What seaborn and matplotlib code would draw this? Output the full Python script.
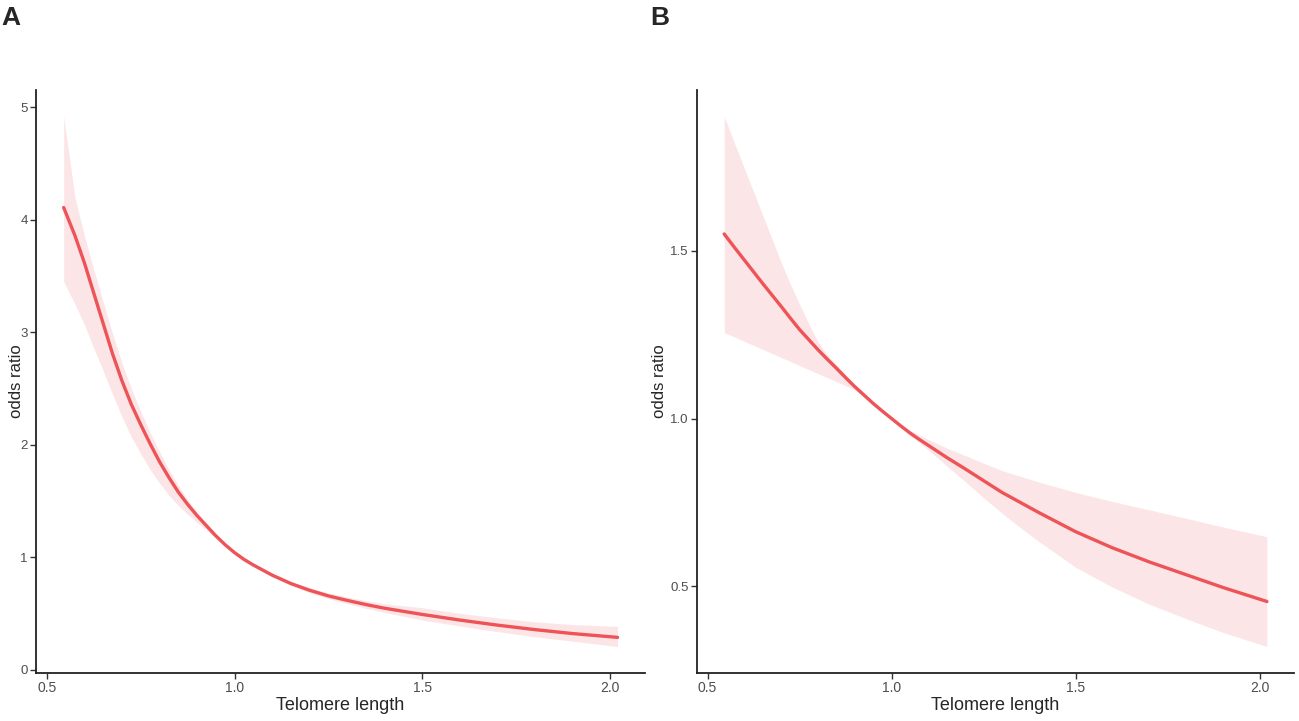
import pandas as pd
import matplotlib.pyplot as plt
import seaborn as sns

# telomere length grid shared by both panels
telomere = [0.545, 0.575, 0.600, 0.625, 0.650, 0.675, 0.700, 0.725, 0.750, 0.775,
            0.800, 0.825, 0.850, 0.875, 0.900, 0.925, 0.950, 0.975, 1.000, 1.025,
            1.050, 1.075, 1.100, 1.150, 1.200, 1.250, 1.300, 1.350, 1.400, 1.500,
            1.600, 1.700, 1.800, 1.900, 2.020]

# panel A: odds ratio with 95% CI
or_a = [4.11, 3.86, 3.62, 3.35, 3.08, 2.81, 2.57, 2.36, 2.18, 2.01,
        1.85, 1.71, 1.58, 1.47, 1.37, 1.28, 1.19, 1.11, 1.04, 0.98,
        0.93, 0.885, 0.84, 0.765, 0.705, 0.655, 0.615, 0.578, 0.545, 0.49,
        0.44, 0.395, 0.355, 0.32, 0.286]
lo_a = [3.45, 3.25, 3.07, 2.86, 2.66, 2.45, 2.25, 2.07, 1.92, 1.78,
        1.66, 1.55, 1.46, 1.38, 1.31, 1.24, 1.17, 1.10, 1.035, 0.975,
        0.922, 0.875, 0.828, 0.748, 0.684, 0.630, 0.586, 0.545, 0.507, 0.44,
        0.387, 0.337, 0.292, 0.252, 0.205]
hi_a = [4.92, 4.20, 3.86, 3.56, 3.27, 2.99, 2.73, 2.50, 2.30, 2.11,
        1.94, 1.78, 1.64, 1.51, 1.40, 1.30, 1.205, 1.12, 1.045, 0.985,
        0.937, 0.895, 0.852, 0.782, 0.727, 0.681, 0.645, 0.612, 0.585, 0.55,
        0.50, 0.46, 0.425, 0.40, 0.383]

# panel B
or_b = [1.550, 1.507, 1.472, 1.437, 1.402, 1.368, 1.334, 1.299, 1.265, 1.235,
        1.205, 1.177, 1.150, 1.122, 1.095, 1.070, 1.045, 1.022, 1.000, 0.978,
        0.957, 0.938, 0.920, 0.884, 0.850, 0.815, 0.780, 0.750, 0.720, 0.663,
        0.615, 0.573, 0.535, 0.497, 0.455]
lo_b = [1.256, 1.242, 1.230, 1.218, 1.206, 1.194, 1.182, 1.170, 1.158, 1.146,
        1.134, 1.122, 1.110, 1.098, 1.085, 1.066, 1.043, 1.020, 0.999, 0.975,
        0.950, 0.929, 0.906, 0.859, 0.812, 0.764, 0.718, 0.675, 0.634, 0.557,
        0.498, 0.447, 0.404, 0.363, 0.321]
hi_b = [1.900, 1.815, 1.745, 1.675, 1.605, 1.535, 1.465, 1.400, 1.340, 1.282,
        1.228, 1.190, 1.160, 1.130, 1.100, 1.073, 1.047, 1.023, 1.001, 0.982,
        0.965, 0.951, 0.938, 0.912, 0.890, 0.867, 0.845, 0.828, 0.811, 0.780,
        0.753, 0.728, 0.703, 0.677, 0.648]

yticks_a = [0, 1, 2, 3, 4, 5]
yticks_b = [0.5, 1.0, 1.5]
xticks = [0.5, 1.0, 1.5, 2.0]

line_col = "#EE5358"
narrow = ["Liberation Sans Narrow", "Liberation Sans", "DejaVu Sans"]

sns.set_style("ticks")
plt.rcParams["font.family"] = ["Liberation Sans", "DejaVu Sans"]

fig = plt.figure(figsize=(12.99, 7.21), dpi=100)
ax_a = fig.add_axes([0.0277, 0.0666, 0.4690, 0.8086])
ax_b = fig.add_axes([0.5366, 0.0666, 0.4596, 0.8086])


def draw(ax, y, lo, hi, yticks, ylabs, ylab_x):
    df = pd.DataFrame({"x": telomere, "y": y, "lo": lo, "hi": hi})
    ax.fill_between(df["x"], df["lo"], df["hi"], color=line_col, alpha=0.15, linewidth=0)
    sns.lineplot(data=df, x="x", y="y", ax=ax, color=line_col, linewidth=2.4)
    # ggplot-like 5% expansion
    xr = df["x"].max() - df["x"].min()
    yr = df["hi"].max() - df["lo"].min()
    ax.set_xlim(df["x"].min() - 0.05 * xr, df["x"].max() + 0.05 * xr)
    ax.set_ylim(df["lo"].min() - 0.05 * yr, df["hi"].max() + 0.05 * yr)
    ax.set_xticks(xticks)
    ax.set_xticklabels([f"{t:.1f}" for t in xticks], family=narrow, fontsize=10, color="#4D4D4D")
    ax.set_yticks(yticks)
    ax.set_yticklabels(ylabs, family=narrow, fontsize=9.5, color="#4D4D4D")
    ax.tick_params(length=4, width=1.0, color="#333333", pad=2)
    for s in ["left", "bottom"]:
        ax.spines[s].set_linewidth(1.3)
        ax.spines[s].set_color("#222222")
    sns.despine(ax=ax)
    ax.set_xlabel("Telomere length", family=narrow, fontsize=13, labelpad=1)
    ax.set_ylabel("odds ratio", fontsize=12)
    ax.yaxis.set_label_coords(ylab_x, 0.5)


draw(ax_a, or_a, lo_a, hi_a, yticks_a, [str(t) for t in yticks_a], -0.020)
draw(ax_b, or_b, lo_b, hi_b, yticks_b, [f"{t:.1f}" for t in yticks_b], -0.050)

fig.text(0.001, 0.992, "A", fontsize=19, fontweight="bold", va="top", ha="left")
fig.text(0.5004, 0.992, "B", fontsize=19, fontweight="bold", va="top", ha="left")

fig.savefig("out.png", dpi=100)
